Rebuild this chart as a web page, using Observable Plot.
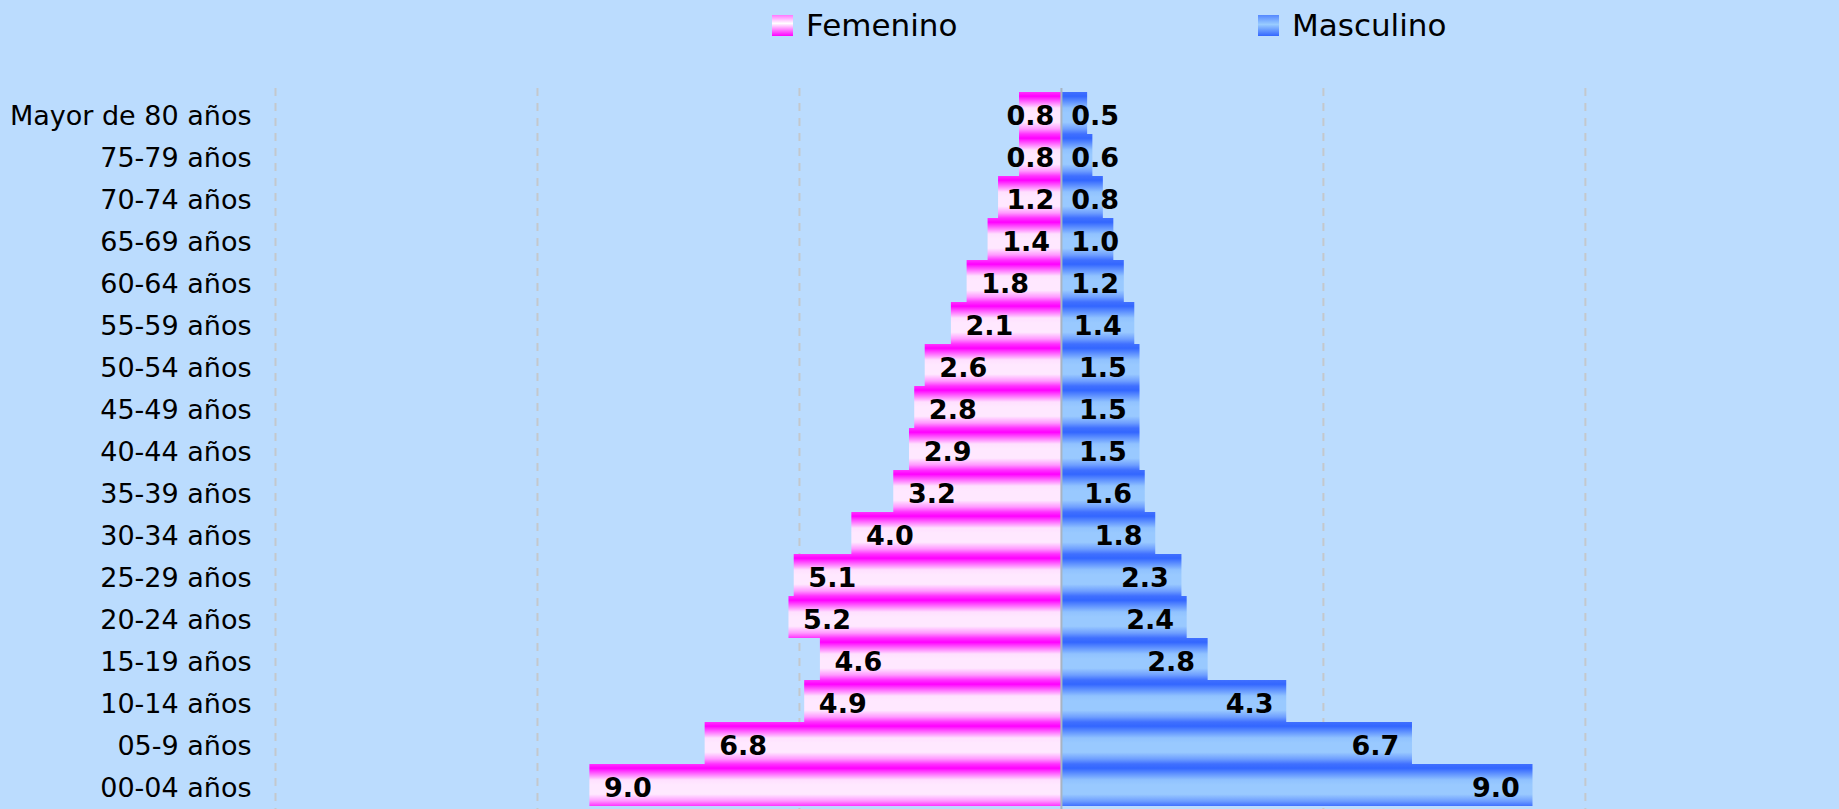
<!DOCTYPE html>
<html>
<head>
<meta charset="utf-8">
<script src="https://cdn.jsdelivr.net/npm/d3@7"></script>
<script src="https://cdn.jsdelivr.net/npm/@observablehq/plot@0.6"></script>
<style>
  html, body { margin: 0; padding: 0; background: #bbdcfe; }
  #wrap { width: 1839px; height: 809px; overflow: hidden; background: #bbdcfe; }
  svg { display: block; }
</style>
</head>
<body>
<div id="wrap"></div>
<script>
const ages = ["Mayor de 80 años","75-79 años","70-74 años","65-69 años","60-64 años","55-59 años","50-54 años","45-49 años","40-44 años","35-39 años","30-34 años","25-29 años","20-24 años","15-19 años","10-14 años","05-9 años","00-04 años"];
const femenino = [0.8,0.8,1.2,1.4,1.8,2.1,2.6,2.8,2.9,3.2,4.0,5.1,5.2,4.6,4.9,6.8,9.0];
const masculino = [0.5,0.6,0.8,1.0,1.2,1.4,1.5,1.5,1.5,1.6,1.8,2.3,2.4,2.8,4.3,6.7,9.0];
const seriesNames = ["Femenino", "Masculino"];
const gridTicks = [-15, -10, -5, 5, 10];

const fem = ages.map((a, i) => ({age: a, v: femenino[i]}));
const mas = ages.map((a, i) => ({age: a, v: masculino[i]}));

const W = 1839;
const font = "'DejaVu Sans', Tahoma, Verdana, sans-serif";

// Legend (above the plot)
const legend = d3.create("svg").attr("width", W).attr("height", 50)
  .style("background", "#bbdcfe");
const ldefs = legend.append("defs");
const lgF = ldefs.append("linearGradient").attr("id", "lgF").attr("x1", 0).attr("y1", 0).attr("x2", 0).attr("y2", 1);
[[0, "#ff77ff"], [0.4, "#ffffff"], [1, "#ff00ff"]].forEach(([o, c]) => lgF.append("stop").attr("offset", o).attr("stop-color", c));
const lgM = ldefs.append("linearGradient").attr("id", "lgM").attr("x1", 0).attr("y1", 0).attr("x2", 0).attr("y2", 1);
[[0, "#5588ff"], [0.45, "#99ccff"], [1, "#3366ff"]].forEach(([o, c]) => lgM.append("stop").attr("offset", o).attr("stop-color", c));
const legendItems = [{name: seriesNames[0], x: 772, g: "url(#lgF)"}, {name: seriesNames[1], x: 1258, g: "url(#lgM)"}];
legendItems.forEach(it => {
  legend.append("rect").attr("x", it.x).attr("y", 15).attr("width", 21).attr("height", 21).attr("fill", it.g);
  legend.append("text").attr("x", it.x + 34).attr("y", 36).attr("font-family", font).attr("font-size", 31).attr("fill", "#000").text(it.name);
});
document.getElementById("wrap").appendChild(legend.node());

const chart = Plot.plot({
  width: W,
  height: 759,
  marginTop: 38,
  marginBottom: 0,
  marginLeft: 275,
  marginRight: 0,
  style: {background: "#bbdcfe", fontFamily: font, fontSize: "27px", color: "#000"},
  x: {domain: [-15, 14.85], axis: null},
  y: {domain: ages, padding: 0, axis: null},
  marks: [
    Plot.ruleX(gridTicks, {stroke: "#c4c8cc", strokeWidth: 2, strokeDasharray: "8,7"}),
    Plot.barX(fem, {y: "age", x1: d => -d.v, x2: 0, fill: "url(#gF)", inset: 0}),
    Plot.barX(mas, {y: "age", x1: 0, x2: d => d.v, fill: "url(#gM)", inset: 0}),
    Plot.ruleX([0], {stroke: "#a8b4c2", strokeWidth: 2}),
    Plot.text(ages, {y: d => d, frameAnchor: "left", dx: -24, dy: 3, textAnchor: "end", fill: "#000", fontSize: 27, text: d => d}),
    Plot.text(fem, {y: "age", x: d => Math.min(-d.v + 0.27, -1.05), textAnchor: "start", dy: 3, text: d => d.v.toFixed(1), fontWeight: "bold", fontSize: 27, fill: "#000"}),
    Plot.text(mas, {y: "age", x: d => Math.max(d.v - 0.25, 1.1), textAnchor: "end", dy: 3, text: d => d.v.toFixed(1), fontWeight: "bold", fontSize: 27, fill: "#000"})
  ]
});

const defs = d3.select(chart).insert("defs", ":first-child");
const gF = defs.append("linearGradient").attr("id", "gF").attr("x1", 0).attr("y1", 0).attr("x2", 0).attr("y2", 1);
[[0, "#ff33ff"], [0.1, "#ff00ff"], [0.38, "#ffe0ff"], [0.5, "#ffe8ff"], [0.72, "#ffe8ff"], [0.88, "#ff99ff"], [1, "#ff33ff"]].forEach(([o, c]) => gF.append("stop").attr("offset", o).attr("stop-color", c));
const gM = defs.append("linearGradient").attr("id", "gM").attr("x1", 0).attr("y1", 0).attr("x2", 0).attr("y2", 1);
[[0, "#4070ff"], [0.1, "#3366ff"], [0.38, "#90c2ff"], [0.5, "#99c9ff"], [0.72, "#99c9ff"], [0.88, "#6f9fff"], [1, "#4070ff"]].forEach(([o, c]) => gM.append("stop").attr("offset", o).attr("stop-color", c));

document.getElementById("wrap").appendChild(chart);
</script>
</body>
</html>
